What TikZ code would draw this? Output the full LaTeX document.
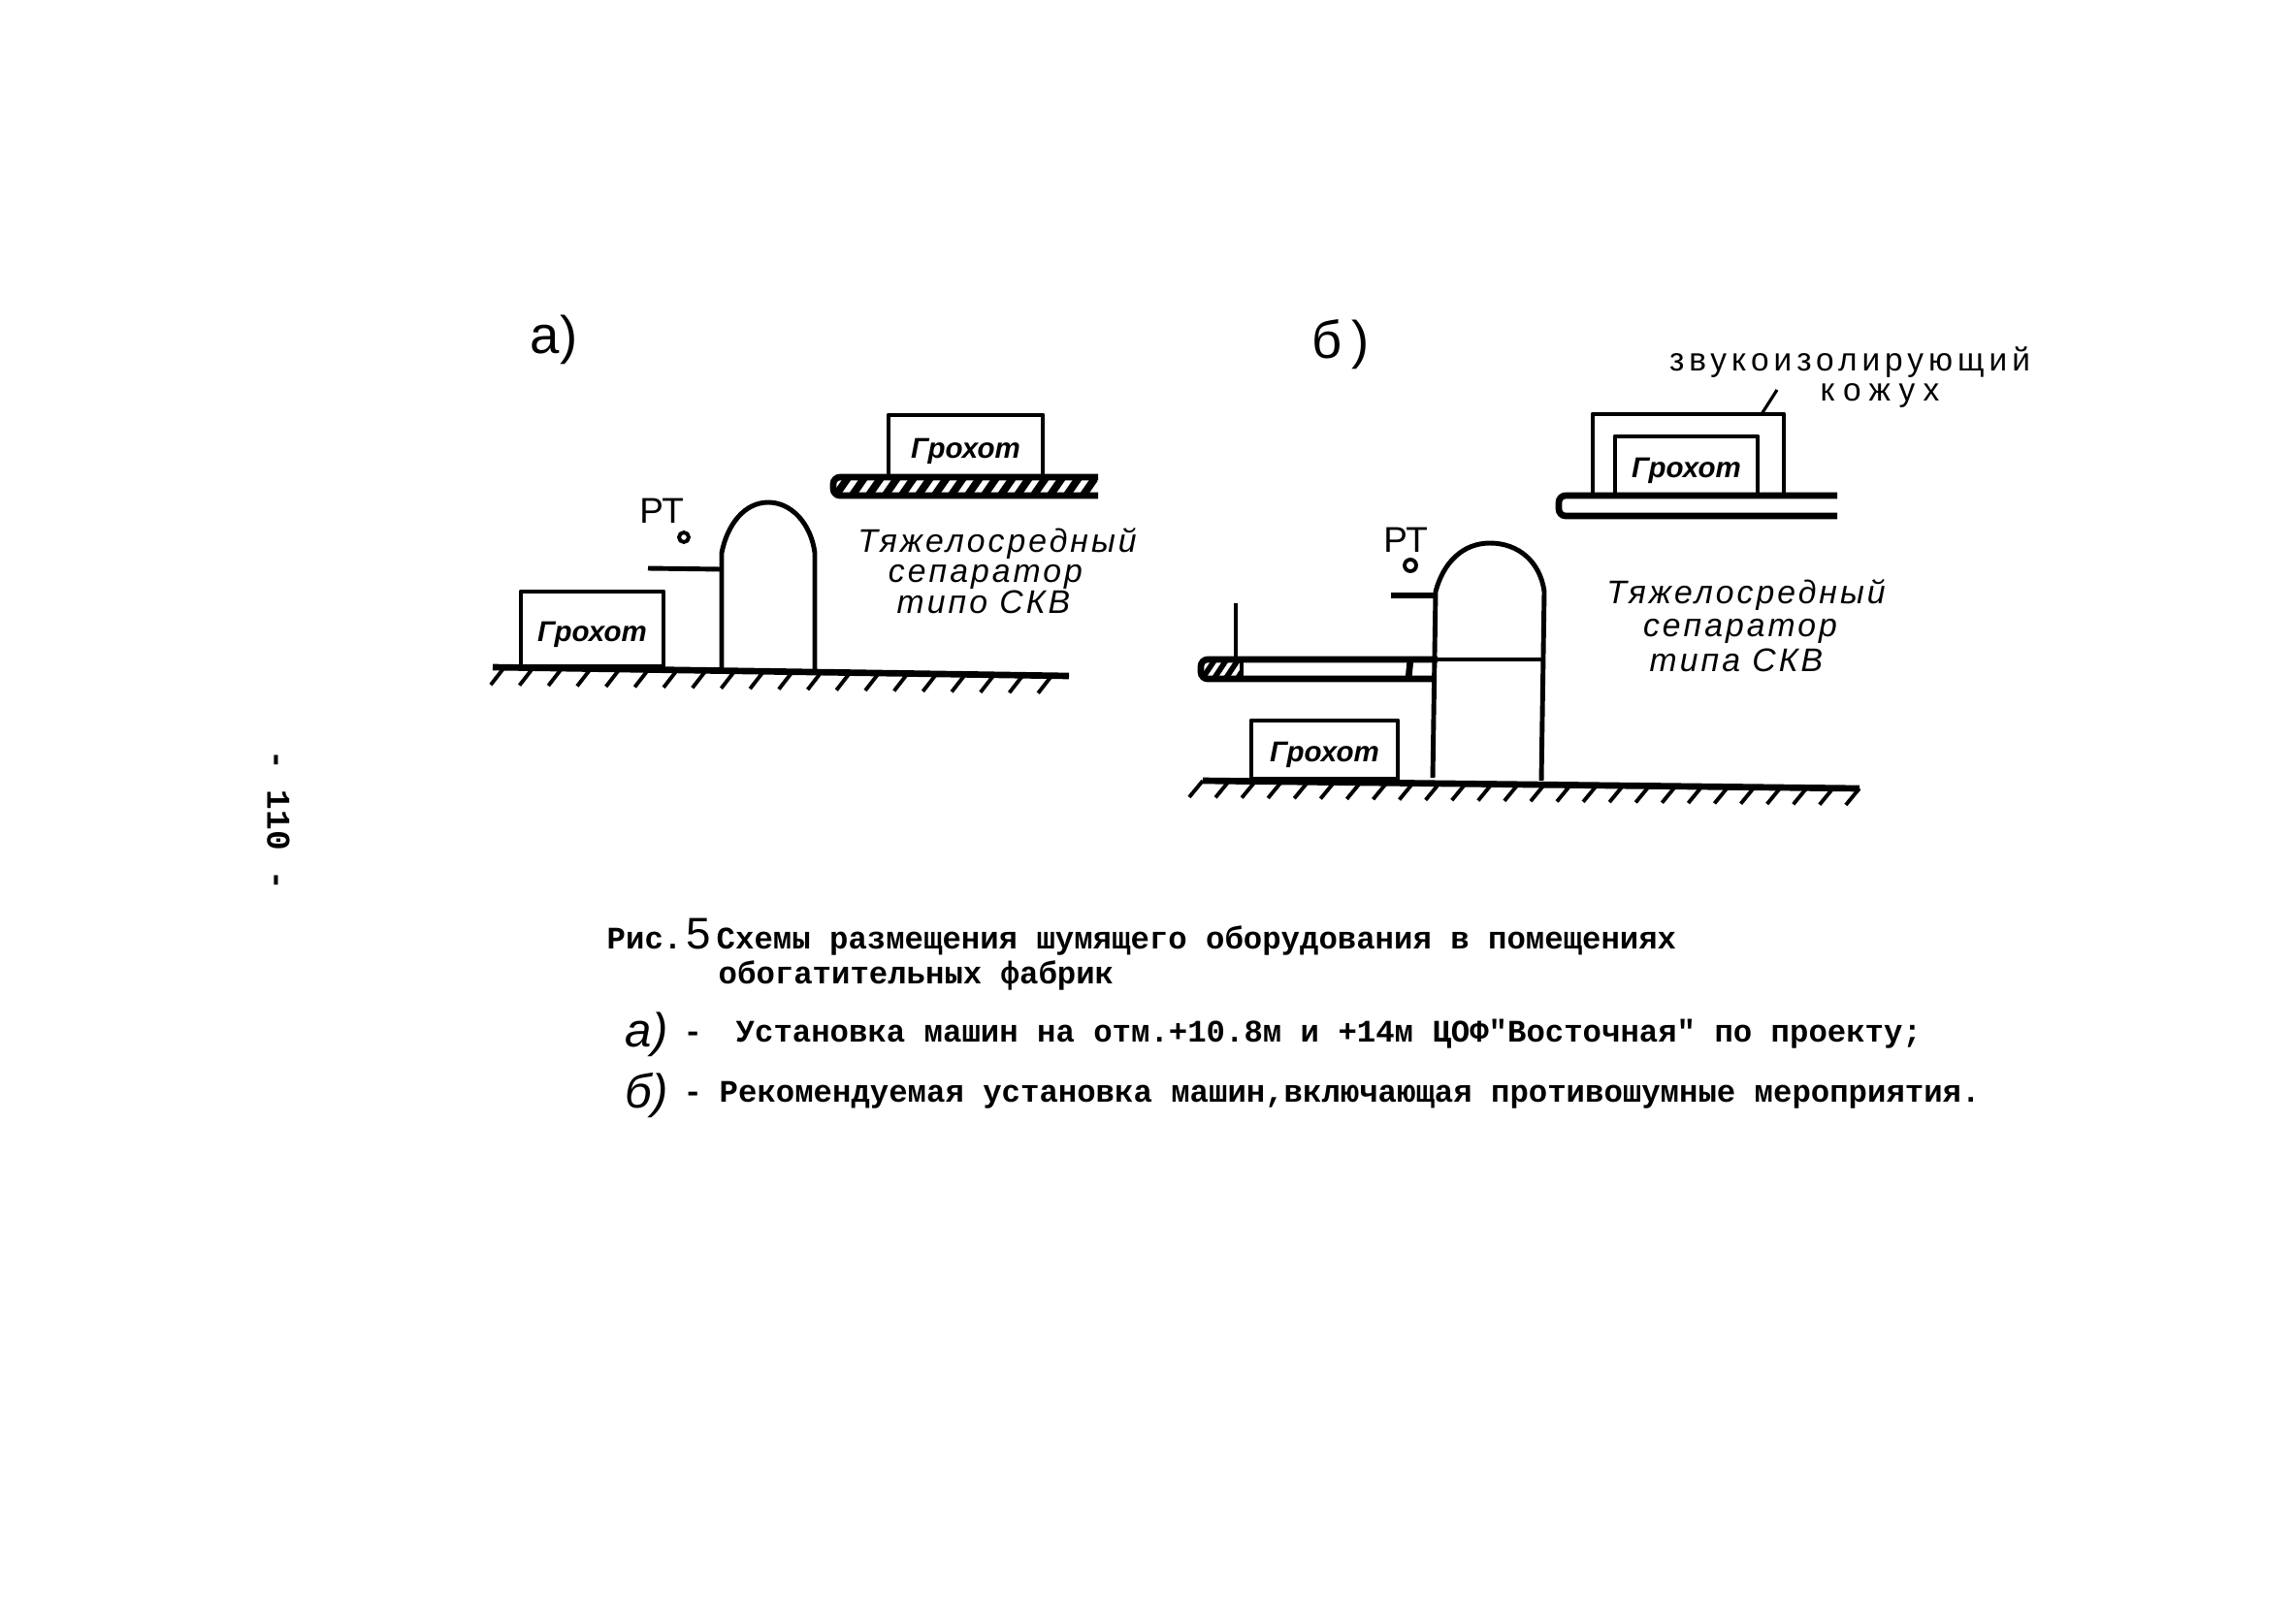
\documentclass[tikz,border=0pt]{standalone}
\usepackage{fontspec}
\setmainfont{Liberation Sans}
\setmonofont{Liberation Mono}
\usetikzlibrary{calc}

\begin{document}
\begin{tikzpicture}[
  wall/.style={line width=1.4pt, line join=round},
  thin/.style={line width=0.9pt},
  gnd/.style={line width=1.9pt},
  tick/.style={line width=1.1pt},
  hatch/.style={line width=2.2pt},
  screen/.style={draw, wall, inner sep=0pt, text height=8.2pt, text depth=1pt, font=\itshape\bfseries\fontsize{8.4}{10}\selectfont},
  hand/.style={font=\itshape\addfontfeature{LetterSpace=9}\fontsize{9.6}{11}\selectfont, inner sep=0pt, anchor=base},
  cover/.style={inner sep=0pt, anchor=center},
  big/.style={font=\fontsize{15.5}{18}\selectfont, inner sep=0pt},
  capt/.style={font=\ttfamily\bfseries\fontsize{9.2}{11}\selectfont, anchor=base west, inner sep=0pt},
  gauge/.style={circle, draw, line width=1.1pt, inner sep=0pt, minimum size=0.1cm}
]
\useasboundingbox (0,0) rectangle (23.67,-16.54);

% page number
\node[capt, anchor=center, rotate=-90, font=\ttfamily\bfseries\fontsize{9.8}{11}\selectfont] (pageno) at (2.87,-8.46) {- 110 -};

% variant a
\node[big] (labA) at (5.71,-3.50) {а)};
\coordinate (gaL) at (5.08,-6.88);
\coordinate (gaR) at (11.02,-6.97);
\draw[gnd] (gaL) -- (gaR);
\foreach \t in {0.02,0.07,...,1.0}
  \draw[tick] ($(gaL)!\t!(gaR)$) -- ++(-0.14,-0.18);
\node[screen, minimum width=1.47cm, minimum height=0.77cm] (boxA) at (6.105,-6.485) {Грохот};
\draw[wall] (7.44,-6.89) -- (7.44,-5.70)
  .. controls (7.50,-5.40) and (7.68,-5.18) .. (7.92,-5.18)
  .. controls (8.16,-5.18) and (8.36,-5.40) .. (8.40,-5.70) -- (8.40,-6.90);
\draw[wall] (6.68,-5.86) -- (7.44,-5.87);
\node[cover, font=\fontsize{10.5}{12}\selectfont] (ptA) at (6.82,-5.27) {РТ};
\node[gauge] (gaugeA) at (7.05,-5.54) {};
\node[screen, minimum width=1.59cm, minimum height=0.64cm] (boxA2) at (9.955,-4.60) {Грохот};
\begin{scope}
  \clip[rounded corners=2pt] (8.59,-4.92) rectangle (11.32,-5.11);
  \foreach \x in {8.60,8.77,...,11.30}
    \draw[hatch] (\x,-5.13) -- ++(0.16,0.23);
\end{scope}
\draw[gnd, rounded corners=2pt] (11.32,-4.92) -- (8.59,-4.92) -- (8.59,-5.11) -- (11.32,-5.11);
\node[hand] (sepA1) at (10.28,-5.69) {Тяжелосредный};
\node[hand] (sepA2) at (10.16,-6.00) {сепаратор};
\node[hand] (sepA3) at (10.14,-6.32) {типо СКВ};

% variant b
\node[big] (labB) at (13.82,-3.55) {б\,)};
\coordinate (gbL) at (12.40,-8.05);
\coordinate (gbR) at (19.17,-8.13);
\draw[gnd] (gbL) -- (gbR);
\foreach \t in {0.0,0.04,...,1.0}
  \draw[tick] ($(gbL)!\t!(gbR)$) -- ++(-0.14,-0.17);
\node[screen, minimum width=1.51cm, minimum height=0.60cm] (boxB) at (13.655,-7.73) {Грохот};
\draw[wall] (14.77,-8.02) -- (14.80,-6.10)
  .. controls (14.88,-5.80) and (15.08,-5.60) .. (15.36,-5.60)
  .. controls (15.66,-5.60) and (15.88,-5.80) .. (15.92,-6.10) -- (15.89,-8.05);
\draw[wall, line width=1.9pt] (14.34,-6.14) -- (14.81,-6.14);
\node[cover, font=\fontsize{10.5}{12}\selectfont] (ptB) at (14.49,-5.57) {РТ};
\node[gauge, minimum size=0.12cm] (gaugeB) at (14.54,-5.83) {};
% floor with the hatched end
\begin{scope}
  \clip (12.38,-6.80) rectangle (12.80,-7.00);
  \foreach \x in {12.38,12.50,12.62,12.74}
    \draw[hatch, line width=1.6pt] (\x,-7.02) -- ++(0.16,0.24);
\end{scope}
\draw[gnd, rounded corners=2pt] (14.76,-7.00) -- (12.38,-7.00) -- (12.38,-6.80) -- (14.82,-6.80);
\draw[thin] (14.82,-6.80) -- (15.92,-6.80);
\draw[wall] (12.80,-6.80) -- (12.80,-7.00);
\draw[gnd] (14.54,-6.80) -- (14.52,-7.00);
\draw[thin] (12.74,-6.22) -- (12.74,-6.80);
% machine in the enclosure
\node[screen, minimum width=1.47cm, minimum height=0.60cm] (boxB2) at (17.385,-4.80) {Грохот};
\draw[wall] (16.42,-5.10) -- (16.42,-4.27) -- (18.39,-4.27) -- (18.39,-5.10);
\draw[gnd, rounded corners=2pt] (18.94,-5.11) -- (16.07,-5.11) -- (16.07,-5.32) -- (18.94,-5.32);
\node[cover, font=\addfontfeature{LetterSpace=15}\fontsize{9.5}{11}\selectfont] (coverT1) at (19.07,-3.74) {звукоизолирующий};
\node[cover, font=\addfontfeature{LetterSpace=25}\fontsize{9.5}{11}\selectfont] (coverT2) at (19.38,-4.08) {кожух};
\draw[thin] (18.16,-4.27) -- (18.32,-4.02);
\node[hand] (sepB1) at (18.00,-6.22) {Тяжелосредный};
\node[hand] (sepB2) at (17.94,-6.56) {сепаратор};
\node[hand] (sepB3) at (17.90,-6.92) {типа СКВ};

% caption
\node[capt] (capFig) at (6.25,-9.78) {Рис.};
\node[capt, font=\fontsize{13}{15}\selectfont] (capNo) at (7.07,-9.78) {5};
\node[capt] (capL1) at (7.38,-9.78) {Схемы размещения шумящего оборудования в помещениях};
\node[capt] (capL2) at (7.40,-10.14) {обогатительных фабрик};
\node[capt, font=\itshape\fontsize{14}{16}\selectfont] (capA) at (6.44,-10.79) {а)};
\node[capt] (capDa) at (7.04,-10.74) {-};
\node[capt] (capL3) at (7.58,-10.74) {Установка машин на отм.+10.8м и +14м ЦОФ"Восточная" по проекту;};
\node[capt, font=\itshape\fontsize{14}{16}\selectfont] (capB) at (6.44,-11.42) {б)};
\node[capt] (capDb) at (7.04,-11.36) {-};
\node[capt] (capL4) at (7.41,-11.36) {Рекомендуемая установка машин,включающая противошумные мероприятия.};
\end{tikzpicture}
\end{document}
